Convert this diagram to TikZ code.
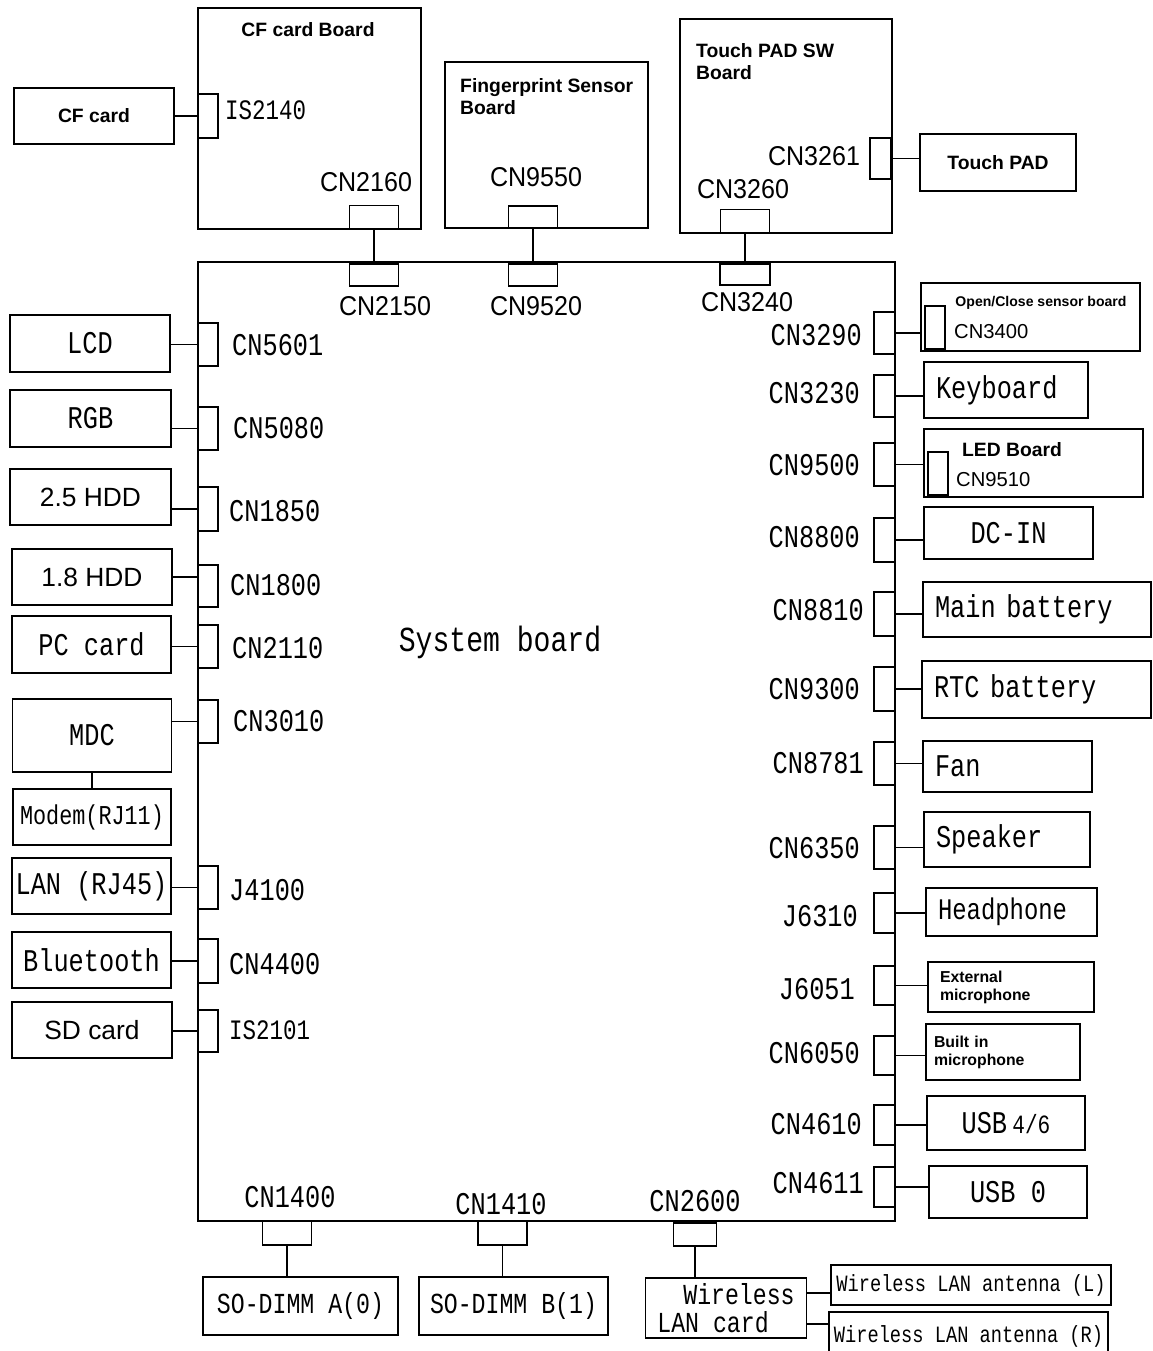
\documentclass[tikz,border=0pt]{standalone}
\usepackage{fontspec}
\setmainfont{Liberation Sans}
\newfontfamily\gothic{Liberation Mono}[FakeStretch=0.8]
\newfontfamily\narrowsans{Liberation Sans}[FakeStretch=0.92]
\usetikzlibrary{positioning, calc}

\begin{document}
\begin{tikzpicture}[
    x=0.02cm, y=-0.02cm,
    box/.style={draw, line width=1pt, inner sep=0pt},
    lbox/.style={box, align=left, inner xsep=0.24cm},
    conn/.style={draw, line width=1pt, inner sep=0pt, minimum width=0.42cm, minimum height=0.86cm},
    hconn/.style={draw, line width=1pt, inner sep=0pt, minimum width=0.98cm, minimum height=0.46cm},
    link/.style={line width=1pt},
    gtext/.style={font=\gothic\fontsize{18}{21}\selectfont},
    ntext/.style={font=\narrowsans\fontsize{15.5}{18}\selectfont},
    atext/.style={font=\fontsize{15}{18}\selectfont},
    btext/.style={font=\bfseries\fontsize{11}{12.5}\selectfont},
    stext/.style={font=\bfseries\fontsize{9}{10.2}\selectfont}
]
    \useasboundingbox (0,0) rectangle (1152,1351);

    % System board
    \node[box, minimum width=13.94cm, minimum height=19.18cm] (sys) at (546.5,741.5) {};
    \node[font=\gothic\fontsize{20}{24}\selectfont] (tsys) at (500,642) {System board};

    % CF card board
    \node[box, minimum width=4.46cm, minimum height=4.42cm] (cfboard) at (309.5,118.5) {};
    \node[btext] (tcfboard) at (308,30) {CF card Board};
    \node[conn, minimum width=0.4cm, minimum height=0.88cm] (is2140) at (208,116) {};
    \node[font=\gothic\fontsize{16}{18}\selectfont, anchor=west] (t2140) at (219,110) {IS2140};
    \node[box, btext, minimum width=3.2cm, minimum height=1.12cm] (cfcard) at (94,116) {CF card};
    \node[hconn] (cn2160) at (374,217) {};
    \node[ntext] (t2160) at (366,182) {CN2160};
    \node[hconn, minimum height=0.44cm] (cn2150) at (374,275) {};
    \node[ntext] (t2150) at (385,306) {CN2150};

    % Fingerprint sensor board
    \node[box, minimum width=4.06cm, minimum height=3.32cm] (fpboard) at (546.5,145) {};
    \node[btext, anchor=north west, align=left] (tfpboard) at (454,72) {Fingerprint Sensor\\Board};
    \node[hconn, minimum height=0.44cm] (cn9550) at (533,217) {};
    \node[ntext] (t9550) at (536,177) {CN9550};
    \node[hconn, minimum height=0.44cm] (cn9520) at (533,275) {};
    \node[ntext] (t9520) at (536,306) {CN9520};

    % Touch PAD SW board
    \node[box, minimum width=4.24cm, minimum height=4.28cm] (tpboard) at (786,126) {};
    \node[btext, anchor=north west, align=left] (ttpboard) at (690,37) {Touch PAD SW\\Board};
    \node[conn, minimum height=0.82cm] (cn3261) at (880.5,158.5) {};
    \node[ntext] (t3261) at (814,156) {CN3261};
    \node[box, btext, minimum width=3.12cm, minimum height=1.14cm] (touchpad) at (998,162.5) {Touch PAD};
    \node[hconn] (cn3260) at (745,221) {};
    \node[ntext] (t3260) at (743,189) {CN3260};
    \node[hconn, minimum width=1.0cm, minimum height=0.42cm] (cn3240) at (745,274.5) {};
    \node[ntext] (t3240) at (747,302) {CN3240};

    % Left side
    \node[box, gtext, minimum width=3.2cm, minimum height=1.14cm] (lcd) at (90,343.5) {LCD};
    \node[conn, minimum width=0.4cm] (cn5601) at (208,344.5) {};
    \node[gtext, anchor=west] (t5601) at (226,345) {CN5601};
    \node[box, gtext, minimum width=3.22cm, minimum height=1.14cm] (rgb) at (90.5,418.5) {RGB};
    \node[conn, minimum width=0.4cm] (cn5080) at (208,428.5) {};
    \node[gtext, anchor=west] (t5080) at (227,428) {CN5080};
    \node[box, atext, minimum width=3.22cm, minimum height=1.12cm] (hdd25) at (90.5,497) {2.5 HDD};
    \node[conn, minimum width=0.4cm, minimum height=0.88cm] (cn1850) at (208,509) {};
    \node[gtext, anchor=west] (t1850) at (223,511) {CN1850};
    \node[box, atext, minimum width=3.2cm, minimum height=1.12cm] (hdd18) at (92,577) {1.8 HDD};
    \node[conn, minimum width=0.4cm, minimum height=0.84cm] (cn1800) at (208,586) {};
    \node[gtext, anchor=west] (t1800) at (224,585) {CN1800};
    \node[box, gtext, minimum width=3.18cm, minimum height=1.14cm] (pccard) at (91.5,644.5) {PC card};
    \node[conn, minimum width=0.4cm] (cn2110) at (208,646.5) {};
    \node[gtext, anchor=west] (t2110) at (226,648) {CN2110};
    \node[box, gtext, minimum width=3.18cm, minimum height=1.46cm] (mdc) at (92,735.5) {MDC};
    \node[conn, minimum width=0.4cm] (cn3010) at (208,721.5) {};
    \node[gtext, anchor=west] (t3010) at (227,721) {CN3010};
    \node[box, font=\gothic\fontsize{15.5}{18}\selectfont, minimum width=3.16cm, minimum height=1.12cm] (modem) at (92,817) {Modem(RJ11)};
    \node[box, gtext, minimum width=3.18cm, minimum height=1.12cm] (lan) at (91.5,886) {LAN (RJ45)};
    \node[conn, minimum width=0.4cm] (j4100) at (208,887.5) {};
    \node[gtext, anchor=west] (t4100) at (223,890) {J4100};
    \node[box, gtext, minimum width=3.18cm, minimum height=1.12cm] (bt) at (91.5,960) {Bluetooth};
    \node[conn, minimum width=0.4cm, minimum height=0.88cm] (cn4400) at (208,961) {};
    \node[gtext, anchor=west] (t4400) at (223,964) {CN4400};
    \node[box, atext, minimum width=3.2cm, minimum height=1.12cm] (sdcard) at (92,1030) {SD card};
    \node[conn, minimum width=0.4cm, minimum height=0.84cm] (is2101) at (208,1031) {};
    \node[font=\gothic\fontsize{16}{18}\selectfont, anchor=west] (t2101) at (223,1030) {IS2101};

    % Right side
    \node[conn, minimum height=0.84cm] (cn3290) at (884.5,333) {};
    \node[gtext, anchor=east] (t3290) at (868,335) {CN3290};
    \node[box, minimum width=4.38cm, minimum height=1.36cm] (ocboard) at (1030.5,317) {};
    \node[conn, minimum width=0.4cm] (cn3400) at (935,327.5) {};
    \node[font=\bfseries\fontsize{8}{9}\selectfont] (toc) at (1041,303) {Open/Close sensor board};
    \node[font=\fontsize{11.5}{13}\selectfont, anchor=west] (t3400) at (948,332) {CN3400};
    \node[conn, minimum height=0.84cm] (cn3230) at (884.5,396) {};
    \node[gtext, anchor=east] (t3230) at (866,393) {CN3230};
    \node[lbox, gtext, text width=2.8cm, minimum height=1.12cm] (keyboard) at (1006,390) {Keyboard};
    \node[conn] (cn9500) at (884.5,464.5) {};
    \node[gtext, anchor=east] (t9500) at (866,465) {CN9500};
    \node[box, minimum width=4.38cm, minimum height=1.36cm] (ledboard) at (1033.5,463) {};
    \node[conn, minimum width=0.4cm] (cn9510) at (938,473.5) {};
    \node[btext] (tled) at (1012,450) {LED Board};
    \node[font=\fontsize{11.5}{13}\selectfont, anchor=west] (t9510) at (950,480) {CN9510};
    \node[conn, minimum height=0.88cm] (cn8800) at (884.5,540) {};
    \node[gtext, anchor=east] (t8800) at (866,537) {CN8800};
    \node[box, gtext, minimum width=3.38cm, minimum height=1.04cm] (dcin) at (1008.5,533) {DC-IN};
    \node[conn, minimum height=0.88cm] (cn8810) at (884.5,614) {};
    \node[gtext, anchor=east] (t8810) at (870,610) {CN8810};
    \node[lbox, gtext, text width=4.08cm, minimum height=1.1cm] (mainbat) at (1037,609.5) {Main battery};
    \node[conn, minimum height=0.88cm] (cn9300) at (884.5,689) {};
    \node[gtext, anchor=east] (t9300) at (866,689) {CN9300};
    \node[lbox, gtext, text width=4.1cm, minimum height=1.14cm] (rtcbat) at (1036.5,689.5) {RTC battery};
    \node[conn] (cn8781) at (884.5,763.5) {};
    \node[gtext, anchor=east] (t8781) at (870,763) {CN8781};
    \node[lbox, gtext, text width=2.9cm, minimum height=1.02cm] (fan) at (1007.5,766.5) {Fan};
    \node[conn] (cn6350) at (884.5,847.5) {};
    \node[gtext, anchor=east] (t6350) at (866,848) {CN6350};
    \node[lbox, gtext, text width=2.84cm, minimum height=1.1cm] (speaker) at (1007,839.5) {Speaker};
    \node[conn, minimum height=0.8cm] (j6310) at (884.5,913) {};
    \node[gtext, anchor=east] (t6310) at (864,916) {J6310};
    \node[lbox, font=\gothic\fontsize{17}{20}\selectfont, text width=2.94cm, minimum height=0.96cm] (headphone) at (1011.5,912) {Headphone};
    \node[conn, minimum height=0.78cm] (j6051) at (884.5,985.5) {};
    \node[gtext, anchor=east] (t6051) at (861,989) {J6051};
    \node[lbox, stext, text width=2.84cm, minimum height=1.0cm] (extmic) at (1011,987) {External\\microphone};
    \node[conn, minimum height=0.78cm] (cn6050) at (884.5,1055.5) {};
    \node[gtext, anchor=east] (t6050) at (866,1053) {CN6050};
    \node[lbox, stext, inner xsep=0.16cm, text width=2.76cm, minimum height=1.12cm] (builtinmic) at (1003,1052) {Built in\\microphone};
    \node[conn, minimum height=0.8cm] (cn4610) at (884.5,1125) {};
    \node[gtext, anchor=east] (t4610) at (868,1124) {CN4610};
    \node[box, gtext, minimum width=3.16cm, minimum height=1.08cm] (usb46) at (1006,1123) {USB\,{\fontsize{15}{18}\selectfont 4/6}};
    \node[conn, minimum height=0.8cm] (cn4611) at (884.5,1187) {};
    \node[gtext, anchor=east] (t4611) at (870,1183) {CN4611};
    \node[box, gtext, minimum width=3.16cm, minimum height=1.04cm] (usb0) at (1008,1192) {USB 0};

    % Bottom side
    \node[hconn, minimum height=0.48cm] (cn1400) at (287,1233) {};
    \node[gtext] (t1400) at (290,1197) {CN1400};
    \node[box, font=\gothic\fontsize{16.5}{19}\selectfont, minimum width=3.9cm, minimum height=1.16cm] (sodimma) at (300.5,1306) {SO-DIMM A(0)};
    \node[hconn, minimum height=0.48cm] (cn1410) at (502.5,1233) {};
    \node[gtext] (t1410) at (501,1204) {CN1410};
    \node[box, font=\gothic\fontsize{16.5}{19}\selectfont, minimum width=3.78cm, minimum height=1.16cm] (sodimmb) at (513.5,1306) {SO-DIMM B(1)};
    \node[hconn, minimum width=0.86cm] (cn2600) at (695,1234.5) {};
    \node[gtext] (t2600) at (695,1201) {CN2600};
    \node[box, font=\gothic\fontsize{16.5}{16}\selectfont, align=left, minimum width=3.22cm, minimum height=1.2cm] (wlan) at (726,1308) {\hspace{0.52cm}Wireless\\LAN card};
    \node[box, font=\gothic\fontsize{13.3}{16}\selectfont, minimum width=5.6cm, minimum height=0.8cm] (antl) at (971,1285) {Wireless LAN antenna (L)};
    \node[box, font=\gothic\fontsize{13.3}{16}\selectfont, minimum width=5.58cm, minimum height=0.96cm] (antr) at (968.5,1336) {Wireless LAN antenna (R)};

    % Connections, top
    \draw[link] (cfcard) -- (is2140);
    \draw[link] (cn2160) -- (cn2150);
    \draw[link] (cn9550) -- (cn9520);
    \draw[link] (cn3260) -- (cn3240);
    \draw[link] (cn3261) -- (cn3261 -| touchpad.west);

    % Connections, left
    \draw[link] (cn5601) -- (cn5601 -| lcd.east);
    \draw[link] (cn5080) -- (cn5080 -| rgb.east);
    \draw[link] (cn1850) -- (cn1850 -| hdd25.east);
    \draw[link] (hdd18) -- (hdd18 -| cn1800.west);
    \draw[link] (cn2110) -- (cn2110 -| pccard.east);
    \draw[link] (cn3010) -- (cn3010 -| mdc.east);
    \draw[link] (mdc) -- (modem);
    \draw[link] (j4100) -- (j4100 -| lan.east);
    \draw[link] (cn4400) -- (cn4400 -| bt.east);
    \draw[link] (is2101) -- (is2101 -| sdcard.east);

    % Connections, right
    \draw[link] (cn3290) -- (cn3290 -| ocboard.west);
    \draw[link] (cn3230) -- (cn3230 -| keyboard.west);
    \draw[link] (cn9500) -- (cn9500 -| ledboard.west);
    \draw[link] (cn8800) -- (cn8800 -| dcin.west);
    \draw[link] (cn8810) -- (cn8810 -| mainbat.west);
    \draw[link] (cn9300) -- (cn9300 -| rtcbat.west);
    \draw[link] (cn8781) -- (cn8781 -| fan.west);
    \draw[link] (cn6350) -- (cn6350 -| speaker.west);
    \draw[link] (j6310) -- (j6310 -| headphone.west);
    \draw[link] (j6051) -- (j6051 -| extmic.west);
    \draw[link] (cn6050) -- (cn6050 -| builtinmic.west);
    \draw[link] (cn4610) -- (cn4610 -| usb46.west);
    \draw[link] (cn4611) -- (cn4611 -| usb0.west);

    % Connections, bottom
    \draw[link] (cn1400) -- (cn1400 |- sodimma.north);
    \draw[link] (cn1410) -- (cn1410 |- sodimmb.north);
    \draw[link] (cn2600) -- (cn2600 |- wlan.north);
    \draw[link] ([yshift=0.3cm]wlan.east) -- ([yshift=0.3cm]wlan.east -| antl.west);
    \draw[link] ([yshift=-0.32cm]wlan.east) -- ([yshift=-0.32cm]wlan.east -| antr.west);
\end{tikzpicture}
\end{document}
